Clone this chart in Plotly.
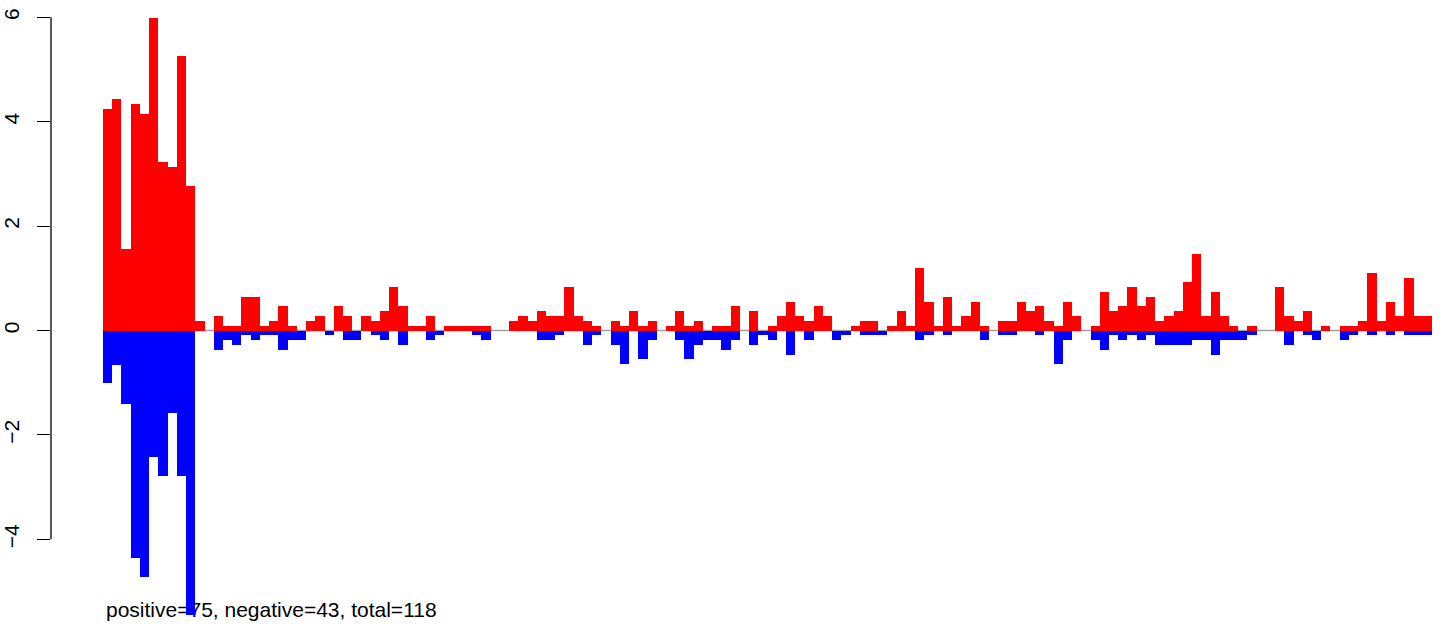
import plotly.graph_objects as go

# bar positions (index) and values
positions = list(range(144))
positive_values = [
    4.24, 4.43, 1.56, 4.33, 4.14, 5.99, 3.23, 3.13, 5.25, 2.76,
    0.18, 0, 0.28, 0.09, 0.09, 0.64, 0.64, 0.09, 0.18, 0.46,
    0.09, 0, 0.18, 0.28, 0, 0.46, 0.28, 0, 0.28, 0.18,
    0.37, 0.83, 0.46, 0.09, 0.09, 0.28, 0, 0.09, 0.09, 0.09,
    0.09, 0.09, 0, 0, 0.18, 0.28, 0.18, 0.37, 0.28, 0.28,
    0.83, 0.28, 0.18, 0.09, 0, 0.18, 0.09, 0.37, 0.09, 0.18,
    0, 0.09, 0.37, 0.09, 0.18, 0, 0.09, 0.09, 0.46, 0,
    0.37, 0, 0.09, 0.28, 0.55, 0.28, 0.18, 0.46, 0.28, 0,
    0, 0.09, 0.18, 0.18, 0, 0.09, 0.37, 0.09, 1.20, 0.55,
    0.09, 0.64, 0.09, 0.28, 0.55, 0.09, 0, 0.18, 0.18, 0.55,
    0.37, 0.46, 0.18, 0.09, 0.55, 0.28, 0, 0.09, 0.74, 0.37,
    0.46, 0.83, 0.46, 0.64, 0.18, 0.28, 0.37, 0.92, 1.47, 0.28,
    0.74, 0.28, 0.09, 0, 0.09, 0, 0, 0.83, 0.28, 0.18,
    0.37, 0, 0.09, 0, 0.09, 0.09, 0.18, 1.10, 0.18, 0.55,
    0.28, 1.01, 0.28, 0.28,
]
negative_values = [
    -1.01, -0.67, -1.40, -4.36, -4.72, -2.42, -2.78, -1.58, -2.78, -5.45,
    0, 0, -0.37, -0.18, -0.28, -0.09, -0.18, -0.09, -0.09, -0.37,
    -0.18, -0.18, 0, 0, -0.09, 0, -0.18, -0.18, 0, -0.09,
    -0.18, 0, -0.28, 0, 0, -0.18, -0.09, 0, 0, 0,
    -0.09, -0.18, 0, 0, 0, 0, 0, -0.18, -0.18, -0.09,
    0, 0, -0.28, -0.09, 0, -0.28, -0.64, 0, -0.55, -0.18,
    0, 0, -0.18, -0.55, -0.28, -0.18, -0.18, -0.37, -0.18, 0,
    -0.28, -0.09, -0.18, 0, -0.46, 0, -0.18, 0, 0, -0.18,
    -0.09, 0, -0.09, -0.09, -0.09, 0, 0, 0, -0.18, -0.09,
    0, -0.09, 0, 0, 0, -0.18, 0, -0.09, -0.09, 0,
    0, -0.09, 0, -0.64, -0.18, 0, 0, -0.18, -0.37, -0.09,
    -0.18, -0.09, -0.18, -0.09, -0.28, -0.28, -0.28, -0.28, -0.18, -0.18,
    -0.46, -0.18, -0.18, -0.18, -0.09, 0, 0, 0, -0.28, 0,
    -0.09, -0.18, 0, 0, -0.18, -0.09, 0, -0.09, 0, -0.09,
    0, -0.09, -0.09, -0.09,
]
y_ticks = [-4, -2, 0, 2, 4, 6]
summary_text = "positive=75, negative=43, total=118"

FONT = "Liberation Sans, Arial, Helvetica, sans-serif"
FS = 21

fig = go.Figure()
fig.add_trace(go.Bar(x=positions, y=positive_values, width=1,
                     marker=dict(color="#FF0000", line=dict(width=0)),
                     showlegend=False, hoverinfo="skip"))
fig.add_trace(go.Bar(x=positions, y=negative_values, width=1,
                     marker=dict(color="#0000FF", line=dict(width=0)),
                     showlegend=False, hoverinfo="skip"))

n = len(positions)
# gray zero line under the bars
fig.add_shape(type="line", xref="x", yref="y", x0=-0.5, x1=n - 0.5, y0=0, y1=0,
              line=dict(color="#A0A0A0", width=1.5), layer="below")
# R-style y axis line spanning the tick range
fig.add_shape(type="line", xref="paper", yref="y", x0=0, x1=0,
              y0=min(y_ticks), y1=max(y_ticks),
              line=dict(color="black", width=1.3), layer="above")
# summary text, drawn beneath the bars
fig.add_shape(type="rect", xref="x", yref="y", x0=-0.5, x1=40, y0=-5.5, y1=-5.1,
              line=dict(width=0), fillcolor="rgba(0,0,0,0)", layer="below",
              label=dict(text=summary_text, textposition="middle left", padding=0,
                         font=dict(family=FONT, size=FS, color="black")))

W, H = 1449, 627
bar_left, bar_right = 103, 1432
px_per_bar = (bar_right - bar_left) / n
L, R = 51, 1440
x_lo = -0.5 - (bar_left - L) / px_per_bar
x_hi = -0.5 + (R - bar_left) / px_per_bar
ppu = 52.2
zero_px = 330.5
y_top = zero_px / ppu
y_bot = y_top - H / ppu

fig.update_layout(
    width=W, height=H,
    margin=dict(l=L, r=W - R, t=0, b=0),
    paper_bgcolor="white", plot_bgcolor="white",
    barmode="overlay", bargap=0,
    font=dict(family=FONT, size=FS, color="black"),
    xaxis=dict(range=[x_lo, x_hi], visible=False),
    yaxis=dict(range=[y_bot, y_top], tickvals=y_ticks,
               ticktext=[str(v).replace("-", "\u2212") for v in y_ticks],
               showgrid=False, zeroline=False, showline=False,
               ticks="outside", ticklen=13, tickwidth=1.3, tickcolor="black",
               tickangle=-90, ticklabelstandoff=10,
               tickfont=dict(family=FONT, size=FS, color="black")),
)
fig.write_html("out.html", config={"displayModeBar": False},
               post_script="document.body.style.margin='0';document.body.style.overflow='hidden';")
